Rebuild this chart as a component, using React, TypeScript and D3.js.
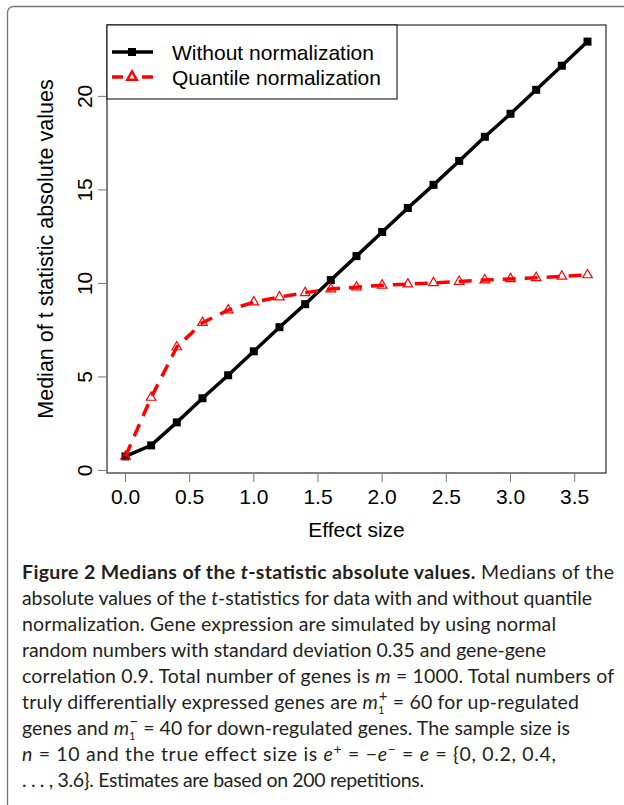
import React from "react";
import * as d3 from "d3";

const effectSize = [0, 0.2, 0.4, 0.6, 0.8, 1.0, 1.2, 1.4, 1.6, 1.8, 2.0, 2.2, 2.4, 2.6, 2.8, 3.0, 3.2, 3.4, 3.6];
const withoutNorm = [0.75, 1.34, 2.57, 3.86, 5.09, 6.37, 7.66, 8.89, 10.18, 11.46, 12.75, 14.03, 15.27, 16.55, 17.84, 19.07, 20.35, 21.64, 22.93];
const quantileNorm = [0.75, 3.9, 6.6, 7.9, 8.57, 9.0, 9.27, 9.5, 9.7, 9.8, 9.9, 9.96, 10.03, 10.1, 10.18, 10.24, 10.3, 10.38, 10.45];
const xTicks = [0, 0.5, 1.0, 1.5, 2.0, 2.5, 3.0, 3.5];
const yTicks = [0, 5, 10, 15, 20];
const legendLabels = ["Without normalization", "Quantile normalization"];

const plot = { left: 107, right: 606, top: 25, bottom: 473 };
const chartFont = "'Liberation Sans', Arial, Helvetica, sans-serif";
const capFont = "Lato, 'Open Sans', sans-serif";

// R-style 4% padding on the data range
const pad = (ext: number[]) => {
  const r = ext[1] - ext[0];
  return [ext[0] - 0.04 * r, ext[1] + 0.04 * r];
};

export default function App() {
  const allY = withoutNorm.concat(quantileNorm);
  const x = d3.scaleLinear().domain(pad(d3.extent(effectSize) as number[])).range([plot.left, plot.right]);
  const y = d3.scaleLinear().domain(pad(d3.extent(allY) as number[])).range([plot.bottom, plot.top]);

  const line = d3.line<number>().x((d, i) => x(effectSize[i])).y(d => y(d));
  const tri = d3.symbol().type(d3.symbolTriangle).size(40)();

  const capX = 22;
  const capY0 = 579;
  const lh = 26;
  const it = { fontStyle: "italic" as const };

  return (
    <svg width={624} height={805} style={{ position: "absolute", left: 0, top: 0, background: "#fff" }}>
      {/* outer figure frame */}
      <path d="M7.5,805 L7.5,13 Q7.5,6.5 14,6.5 L624,6.5" fill="none" stroke="#777" strokeWidth={1.3} />

      {/* plot box */}
      <rect x={plot.left} y={plot.top} width={plot.right - plot.left} height={plot.bottom - plot.top} fill="none" stroke="#000" strokeWidth={1} />

      {/* y axis */}
      {yTicks.map(t => (
        <g key={t}>
          <line x1={plot.left - 9} x2={plot.left} y1={y(t)} y2={y(t)} stroke="#777" strokeWidth={1} />
          <text transform={`translate(92,${y(t)}) rotate(-90)`} textAnchor="middle" fontFamily={chartFont} fontSize={21}>{t}</text>
        </g>
      ))}
      <text transform={`translate(53,${(plot.top + plot.bottom) / 2}) rotate(-90)`} textAnchor="middle" fontFamily={chartFont} fontSize={21.5}>
        Median of t statistic absolute values
      </text>

      {/* x axis */}
      {xTicks.map(t => (
        <g key={t}>
          <line x1={x(t)} x2={x(t)} y1={plot.bottom} y2={plot.bottom + 9} stroke="#777" strokeWidth={1} />
          <text x={x(t)} y={504} textAnchor="middle" fontFamily={chartFont} fontSize={21}>{t.toFixed(1)}</text>
        </g>
      ))}
      <text x={(plot.left + plot.right) / 2} y={537} textAnchor="middle" fontFamily={chartFont} fontSize={21}>Effect size</text>

      {/* series */}
      <path d={line(withoutNorm) || ""} fill="none" stroke="#000" strokeWidth={3.5} />
      {withoutNorm.map((v, i) => (
        <rect key={i} x={x(effectSize[i]) - 4} y={y(v) - 4} width={8} height={8} fill="#000" />
      ))}
      <path d={line(quantileNorm) || ""} fill="none" stroke="#f00" strokeWidth={3.5} strokeDasharray="13,9" />
      {quantileNorm.map((v, i) => (
        <path key={i} d={tri || ""} transform={`translate(${x(effectSize[i])},${y(v)})`} fill="none" stroke="#f00" strokeWidth={1.2} />
      ))}

      {/* legend */}
      <rect x={plot.left} y={plot.top} width={290} height={74} fill="#fff" stroke="#000" strokeWidth={1} />
      <line x1={112} x2={153} y1={52} y2={52} stroke="#000" strokeWidth={3.5} />
      <rect x={128} y={48} width={8} height={8} fill="#000" />
      <line x1={112} x2={153} y1={77} y2={77} stroke="#f00" strokeWidth={3.5} strokeDasharray="11,19" />
      <path d={tri || ""} transform="translate(132,77)" fill="none" stroke="#f00" strokeWidth={2.4} />
      {legendLabels.map((l, i) => (
        <text key={l} x={172} y={59.5 + i * 25} fontFamily={chartFont} fontSize={21}>{l}</text>
      ))}

      {/* caption */}
      <g fontFamily={capFont} fontSize={19.5} fill="#231f20">
        <text x={capX} y={capY0} textLength={592} lengthAdjust="spacing">
          <tspan fontWeight="bold">Figure 2 Medians of the </tspan>
          <tspan fontWeight="bold" fontStyle="italic">t</tspan>
          <tspan fontWeight="bold">-statistic absolute values.</tspan>
          <tspan> Medians of the</tspan>
        </text>
        <text x={capX} y={capY0 + lh} textLength={570} lengthAdjust="spacing">
          absolute values of the <tspan {...it}>t</tspan>-statistics for data with and without quantile
        </text>
        <text x={capX} y={capY0 + 2 * lh} textLength={534} lengthAdjust="spacing">
          normalization. Gene expression are simulated by using normal
        </text>
        <text x={capX} y={capY0 + 3 * lh} textLength={524} lengthAdjust="spacing">
          random numbers with standard deviation 0.35 and gene-gene
        </text>
        <text x={capX} y={capY0 + 4 * lh} textLength={592} lengthAdjust="spacing">
          correlation 0.9. Total number of genes is <tspan {...it}>m</tspan> = 1000. Total numbers of
        </text>
        <text x={capX} y={capY0 + 5 * lh} textLength={557} lengthAdjust="spacing">
          truly differentially expressed genes are <tspan {...it}>m</tspan>
          <tspan fontSize={11} dy={5}>1</tspan>
          <tspan fontSize={15} dx={-6} dy={-13}>+</tspan>
          <tspan dy={8}>{"  =  60 for up-regulated"}</tspan>
        </text>
        <text x={capX} y={capY0 + 6 * lh} textLength={548} lengthAdjust="spacing">
          genes and <tspan {...it}>m</tspan>
          <tspan fontSize={11} dy={5}>1</tspan>
          <tspan fontSize={15} dx={-6} dy={-13}>−</tspan>
          <tspan dy={8}>{"  =  40 for down-regulated genes. The sample size is"}</tspan>
        </text>
        <text x={capX} y={capY0 + 7 * lh} textLength={534} lengthAdjust="spacing">
          <tspan {...it}>n</tspan>{"  =  10 and the true effect size is "}<tspan {...it}>e</tspan>
          <tspan fontSize={14} dy={-7}>+</tspan>
          <tspan dy={7}>{"  =  −"}</tspan>
          <tspan {...it}>e</tspan>
          <tspan fontSize={14} dy={-7}>−</tspan>
          <tspan dy={7}>{"  =  "}</tspan>
          <tspan {...it}>e</tspan>{"  =  {0, 0.2, 0.4,"}
        </text>
        <text x={capX} y={capY0 + 8 * lh} textLength={402} lengthAdjust="spacing">
          {". . . , 3.6}. Estimates are based on 200 repetitions."}
        </text>
      </g>
    </svg>
  );
}
